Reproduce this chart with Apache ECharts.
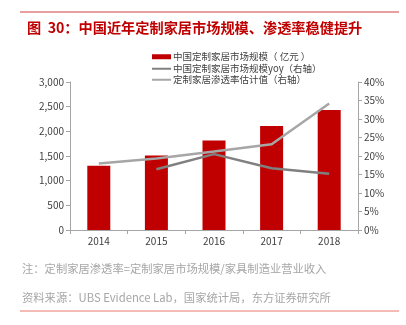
<!DOCTYPE html>
<html><head><meta charset="utf-8">
<script src="https://cdn.jsdelivr.net/npm/echarts@6/dist/echarts.min.js"></script>
<style>html,body{margin:0;padding:0;background:#fff;}#c{width:406px;height:325px;}</style>
</head><body><div id="c"></div>
<script>
var categories = ['2014','2015','2016','2017','2018'];
var marketSize = [1300, 1510, 1815, 2110, 2430];
var marketYoy = [null, 16.4, 20.5, 16.7, 15.2];
var penetration = [18.0, 19.3, 21.2, 23.2, 34.2];
var leftTicks = [0, 500, 1000, 1500, 2000, 2500, 3000];
var rightTicks = [0, 5, 10, 15, 20, 25, 30, 35, 40];
var nameBar = '中国定制家居市场规模（ 亿元 ）';
var nameYoy = '中国定制家居市场规模yoy（右轴）';
var namePen = '定制家居渗透率估计值（右轴）';

var font = '"Noto Sans CJK SC", "Liberation Sans", sans-serif';
var chart = echarts.init(document.getElementById('c'), null, {renderer:'canvas'});
function lg(name, top, h){
  return {data:[name], left:152, top:top, itemWidth:19, itemHeight:h, itemGap:0, icon:'rect',
    textStyle:{fontSize:9.5, color:'#404040', fontFamily:font, padding:[0,0,0,-3]}, padding:0, selectedMode:false};
}
chart.setOption({
  animation:false,
  textStyle:{fontFamily:font},
  title:{text:'图  30：中国近年定制家居市场规模、渗透率稳健提升', left:22, top:16,
    textStyle:{fontSize:14.2, fontWeight:'bold', color:'#c00000', fontFamily:font}},
  legend:[lg(nameBar,52,5),lg(nameYoy,64,2),lg(namePen,75,2)],
  grid:{left:70, right:48, top:82, bottom:95},
  xAxis:{type:'category', data:categories,
    axisLine:{lineStyle:{color:'#a6a6a6'}}, axisTick:{show:true, alignWithLabel:false, lineStyle:{color:'#a6a6a6'}, length:4},
    axisLabel:{color:'#404040', fontSize:10, margin:6}},
  yAxis:[
    {type:'value', min:0, max:3000, interval:500,
     axisLine:{show:true, lineStyle:{color:'#a6a6a6'}}, axisTick:{show:true, length:4, lineStyle:{color:'#a6a6a6'}},
     splitLine:{show:false},
     axisLabel:{color:'#404040', fontSize:10, margin:6, formatter:function(v){return leftTicks.indexOf(v)>=0 ? v.toLocaleString('en-US') : '';}}},
    {type:'value', min:0, max:40, interval:5,
     axisLine:{show:true, lineStyle:{color:'#a6a6a6'}}, axisTick:{show:true, length:4, lineStyle:{color:'#a6a6a6'}},
     splitLine:{show:false},
     axisLabel:{color:'#404040', fontSize:10, margin:6, formatter:function(v){return rightTicks.indexOf(v)>=0 ? v+'%' : '';}}}
  ],
  series:[
    {name:nameBar, type:'bar', data:marketSize, barWidth:23, itemStyle:{color:'#c00000'}},
    {name:nameYoy, type:'line', yAxisIndex:1, data:marketYoy, symbol:'none', lineStyle:{color:'#808080', width:2.5}, itemStyle:{color:'#808080'}},
    {name:namePen, type:'line', yAxisIndex:1, data:penetration, symbol:'none', lineStyle:{color:'#a6a6a6', width:2.5}, itemStyle:{color:'#a6a6a6'}}
  ],
  graphic:[
    {type:'line', shape:{x1:20,y1:12,x2:399,y2:12}, style:{stroke:'#d04040', lineWidth:1}},
    {type:'text', left:22, top:263, style:{text:'注：定制家居渗透率=定制家居市场规模/家具制造业营业收入', fill:'#a6a6a6', font:'11.3px '+font}},
    {type:'text', left:22, top:292, style:{text:'资料来源：UBS Evidence Lab，国家统计局，东方证券研究所', fill:'#a6a6a6', font:'11.3px '+font}},
    {type:'line', shape:{x1:20,y1:311,x2:399,y2:311}, style:{stroke:'#e8776f', lineWidth:1}}
  ]
});
</script></body></html>
